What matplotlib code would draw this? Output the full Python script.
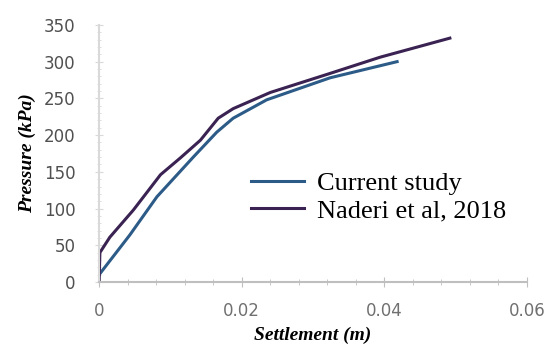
import matplotlib.pyplot as plt
from matplotlib.ticker import MultipleLocator

# settlement (m) vs pressure (kPa)
current_x = [0, 0.0043, 0.0081, 0.0132, 0.0165, 0.0188, 0.0235, 0.0324, 0.0418]
current_y = [10, 64, 116, 170, 204, 223, 248, 278, 300]

naderi_x = [0, 0.0001, 0.0015, 0.0048, 0.0086, 0.0114, 0.0142, 0.0167,
            0.0188, 0.024, 0.0324, 0.0394, 0.0492]
naderi_y = [0, 40, 61, 98, 146, 169, 193, 223, 236, 258, 284, 306, 332]

x_ticks = [0, 0.02, 0.04, 0.06]
x_labels = ['0', '0.02', '0.04', '0.06']
y_ticks = [0, 50, 100, 150, 200, 250, 300, 350]

fig = plt.figure(figsize=(5.54, 3.46), dpi=100)
ax = fig.add_axes([0.179, 0.185, 0.772, 0.743])

ax.plot(current_x, current_y, color='#2c5b88', lw=2.2, label='Current study')
ax.plot(naderi_x, naderi_y, color='#3a2352', lw=2.2, label='Naderi et al, 2018')

ax.set_xlim(0, 0.06)
ax.set_ylim(0, 350)
ax.set_xticks(x_ticks)
ax.set_xticklabels(x_labels)
ax.set_yticks(y_ticks)
ax.xaxis.set_minor_locator(MultipleLocator(0.004))
ax.yaxis.set_minor_locator(MultipleLocator(10))

for side in ['top', 'right']:
    ax.spines[side].set_visible(False)
ax.spines['left'].set_color('#d9d9d9')
ax.spines['bottom'].set_color('#bfbfbf')
ax.spines['left'].set_linewidth(1.5)
ax.spines['bottom'].set_linewidth(1.5)

ax.tick_params(axis='y', which='major', direction='inout', length=6, color='#d9d9d9',
               labelsize=12, labelcolor='#505050', pad=14)
ax.tick_params(axis='y', which='minor', direction='inout', length=3, color='#d9d9d9')
ax.tick_params(axis='x', which='major', direction='inout', length=7, color='#bfbfbf',
               labelsize=12, labelcolor='#707070', pad=11)
ax.tick_params(axis='x', which='minor', direction='inout', length=4, color='#bfbfbf')

ax.set_xlabel('Settlement (m)', family='Liberation Serif', style='italic',
              fontweight='bold', fontsize=14, labelpad=5)
ax.set_ylabel('Pressure (kPa)', family='Liberation Serif', style='italic',
              fontweight='bold', fontsize=14, labelpad=6)

ax.legend(loc='center left', bbox_to_anchor=(0.3, 0.33), frameon=False,
          prop={'family': 'Liberation Serif', 'size': 19},
          handlelength=2.0, handletextpad=0.5, labelspacing=0.15)

fig.savefig('out.png', dpi=100)
